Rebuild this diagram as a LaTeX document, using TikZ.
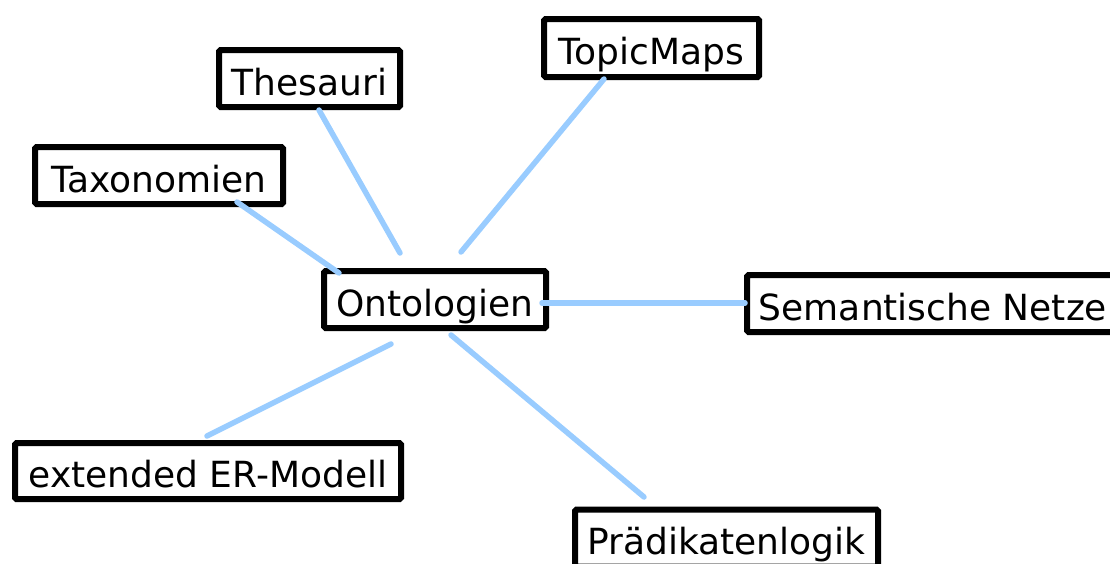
\documentclass[tikz,border=0pt]{standalone}
\usepackage{fontspec}
\setmainfont{DejaVu Sans}
\begin{document}
\begin{tikzpicture}[x=1pt,y=-1pt,
  box/.style={draw=black, line width=6pt, rounded corners=1.5pt, fill=white,
    inner xsep=0pt, inner ysep=0pt, text height=33pt, text depth=0pt,
    minimum height=57pt, font=\fontsize{36}{42}\selectfont},
  link/.style={draw={rgb,255:red,153;green,204;blue,255}, line width=5.5pt, line cap=round}]
\useasboundingbox (0,0) rectangle (1110,563);
\node[box, minimum width=181pt] (th) at (309.5,78.5) {Thesauri};
\node[box, minimum width=248pt] (tx) at (159,175.5) {Taxonomien};
\node[box, minimum width=215pt, minimum height=58pt] (tm) at (651.5,48) {TopicMaps};
\node[box, minimum width=222pt] (on) at (435,299.5) {Ontologien};
\node[box, minimum width=372pt] (sn) at (933,303.5) {Semantische Netze};
\node[box, minimum width=386pt, minimum height=56pt] (er) at (208,471) {extended ER-Modell};
\node[box, minimum width=303pt] (pr) at (726.5,538) {Prädikatenlogik};
\coordinate (thA) at (319,110);  \coordinate (thB) at (400,253);
\coordinate (txA) at (237,202);  \coordinate (txB) at (339,273);
\coordinate (tmA) at (604,79);   \coordinate (tmB) at (461,252);
\coordinate (snA) at (542,303);  \coordinate (snB) at (745,303);
\coordinate (erA) at (391,344);  \coordinate (erB) at (207,436);
\coordinate (prA) at (451,335);  \coordinate (prB) at (644,497);
\draw[link] (thA) -- (thB);
\draw[link] (txA) -- (txB);
\draw[link] (tmA) -- (tmB);
\draw[link] (snA) -- (snB);
\draw[link] (erA) -- (erB);
\draw[link] (prA) -- (prB);
\end{tikzpicture}
\end{document}
